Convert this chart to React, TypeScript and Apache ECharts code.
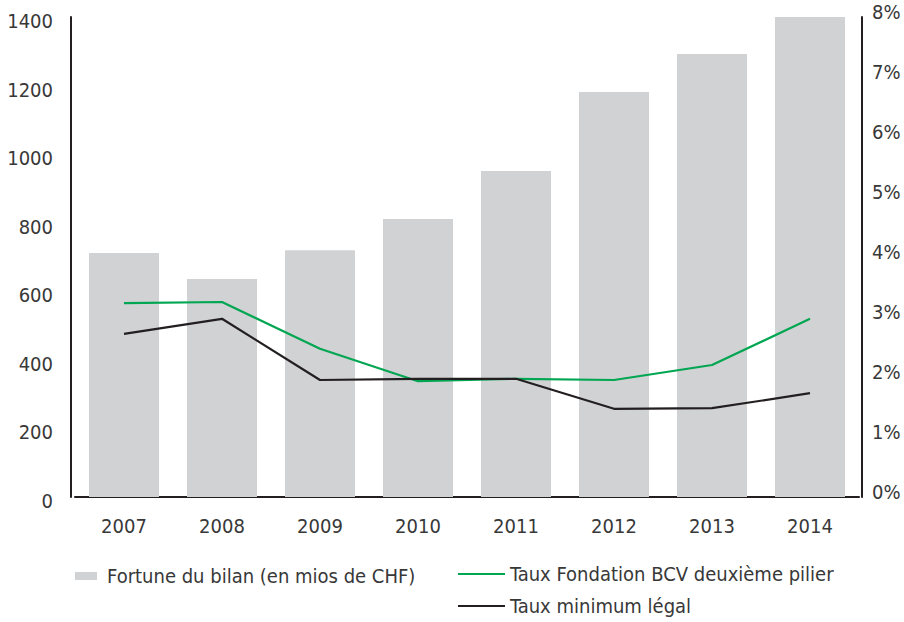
import React, { useEffect, useRef } from "react";
import * as echarts from "echarts";

const years = ["2007", "2008", "2009", "2010", "2011", "2012", "2013", "2014"];
const fortune = [712, 636, 720, 811, 951, 1181, 1292, 1403];
const tauxFondation = [3.23, 3.25, 2.47, 1.93, 1.97, 1.95, 2.2, 2.97];
const tauxMinimum = [2.72, 2.97, 1.95, 1.97, 1.97, 1.47, 1.48, 1.73];
const leftTicks = { min: 0, max: 1400, interval: 200 };
const rightTicks = { min: 0, max: 8, interval: 1 };

const nameFortune = "Fortune du bilan (en mios de CHF)";
const nameFondation = "Taux Fondation BCV deuxième pilier";
const nameMinimum = "Taux minimum légal";

const FONT = "'DejaVu Sans Condensed', 'Liberation Sans Narrow', Lato, sans-serif";
const FS = 20;
const TEXT = "#383838";
const AXIS = "#231f20";

const legendText = { fontFamily: FONT, fontSize: FS, color: TEXT, lineHeight: 20 };

export default function App() {
  const ref = useRef<HTMLDivElement>(null);
  useEffect(() => {
    if (!ref.current) return;
    const chart = echarts.init(ref.current, undefined, { renderer: "svg" });
    chart.setOption({
      animation: false,
      textStyle: { fontFamily: FONT },
      grid: { left: 75, right: 45, top: 17, bottom: 125, containLabel: false },
      legend: [
        {
          data: [nameFortune],
          left: 75,
          top: 566,
          padding: 0,
          itemWidth: 22,
          itemHeight: 8,
          icon: "rect",
          textStyle: { ...legendText, padding: [0, 0, 0, 5] },
        },
        {
          data: [nameFondation],
          left: 458,
          top: 564,
          padding: 0,
          itemWidth: 47,
          itemHeight: 2,
          icon: "rect",
          textStyle: legendText,
        },
        {
          data: [nameMinimum],
          left: 458,
          top: 596,
          padding: 0,
          itemWidth: 47,
          itemHeight: 2,
          icon: "rect",
          textStyle: legendText,
        },
      ],
      xAxis: {
        type: "category",
        data: years,
        axisLine: { lineStyle: { color: AXIS, width: 2 } },
        axisTick: { show: false },
        axisLabel: { fontFamily: FONT, fontSize: FS, color: TEXT, margin: 19 },
      },
      yAxis: [
        {
          type: "value",
          ...leftTicks,
          offset: 4,
          axisLine: { show: true, lineStyle: { color: AXIS, width: 2 } },
          axisTick: { show: false },
          splitLine: { show: false },
          axisLabel: {
            fontFamily: FONT,
            fontSize: FS,
            color: TEXT,
            margin: 18,
            verticalAlign: "top",
            lineHeight: 8,
            formatter: (v: number) => String(v),
          },
        },
        {
          type: "value",
          ...rightTicks,
          position: "right",
          offset: 3,
          axisLine: { show: true, lineStyle: { color: AXIS, width: 2 } },
          axisTick: { show: false },
          splitLine: { show: false },
          axisLabel: {
            fontFamily: FONT,
            fontSize: FS,
            color: TEXT,
            margin: 10,
            verticalAlign: "bottom",
            lineHeight: 10,
            formatter: (v: number) => v + "%",
          },
        },
      ],
      series: [
        {
          name: nameFortune,
          type: "bar",
          data: fortune,
          barWidth: 70,
          itemStyle: { color: "#d1d2d4" },
          yAxisIndex: 0,
        },
        {
          name: nameFondation,
          type: "line",
          data: tauxFondation,
          yAxisIndex: 1,
          symbol: "none",
          lineStyle: { color: "#00a651", width: 2.2 },
          itemStyle: { color: "#00a651" },
        },
        {
          name: nameMinimum,
          type: "line",
          data: tauxMinimum,
          yAxisIndex: 1,
          symbol: "none",
          lineStyle: { color: "#231f20", width: 2.2 },
          itemStyle: { color: "#231f20" },
        },
      ],
    });
    return () => chart.dispose();
  }, []);
  return <div ref={ref} style={{ width: 904, height: 622, position: "absolute", left: 0, top: 0 }} />;
}
